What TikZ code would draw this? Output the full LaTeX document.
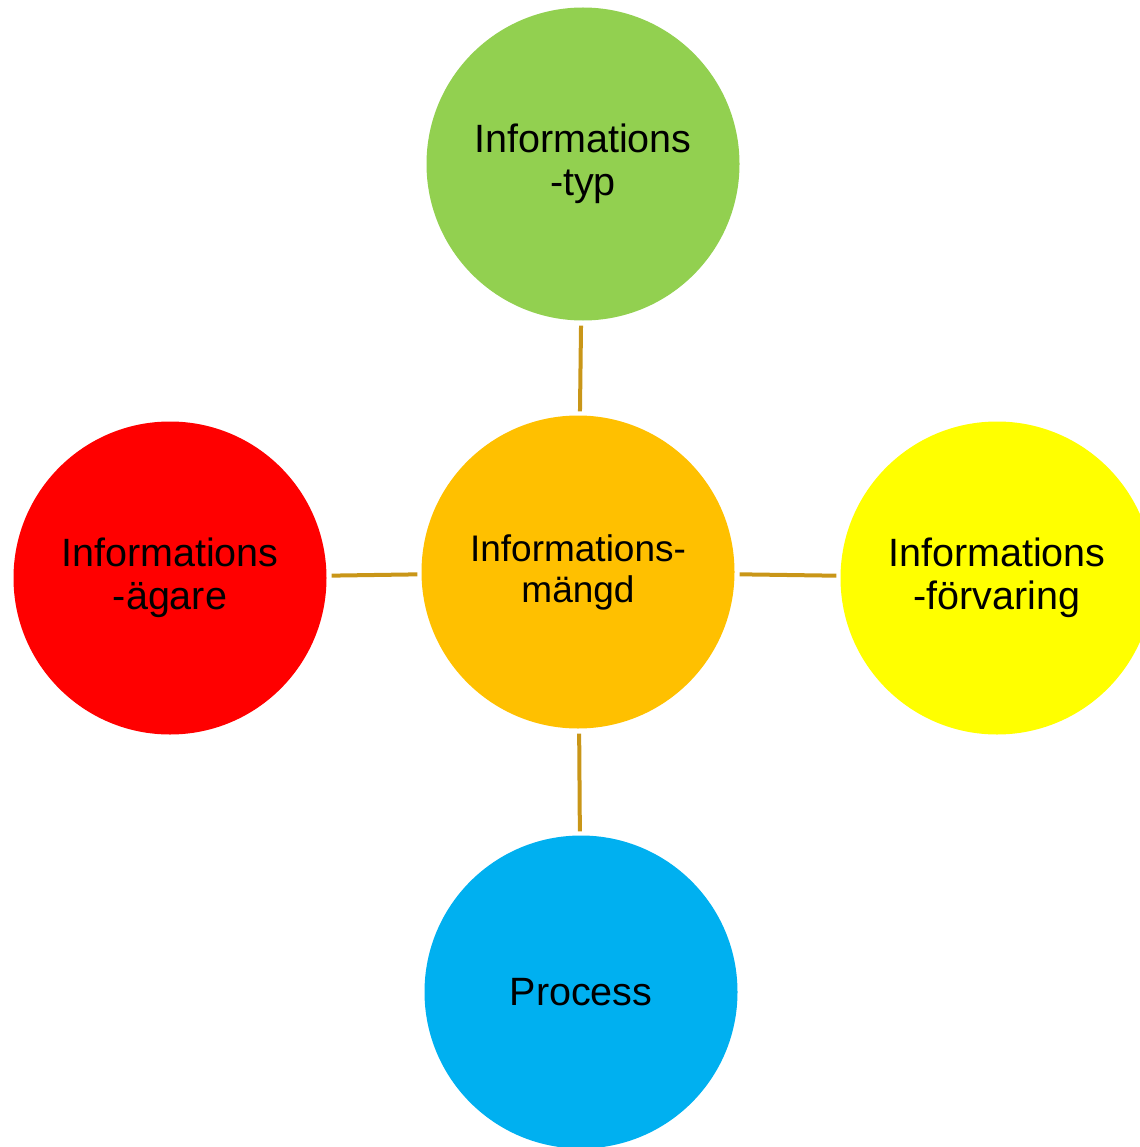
\documentclass[tikz,border=0pt]{standalone}
\usepackage{fontspec}
\setmainfont{Liberation Sans}
\usetikzlibrary{positioning}
\definecolor{infogreen}{HTML}{92D050}
\definecolor{infoorange}{HTML}{FFC000}
\definecolor{infoyellow}{HTML}{FFFF00}
\definecolor{infored}{HTML}{FF0000}
\definecolor{infoblue}{HTML}{00B0F0}
\definecolor{linkgold}{HTML}{C99618}
\begin{document}
\begin{tikzpicture}[x=1pt, y=-1pt]
        % Define block styles
        \tikzstyle{bubble} = [circle, minimum size=313pt, inner sep=0pt, align=center, font=\fontsize{39.5}{43}\selectfont]
        \tikzstyle{line} = [draw, linkgold, line width=4pt, shorten <=5pt, shorten >=4pt]
        \useasboundingbox (0,0) rectangle (1139,1147);

        % Nodes
        \node [bubble, fill=infoorange, font=\fontsize{37}{41}\selectfont] (amount) at (578,572) {Informations-\\mängd};
        \node [bubble, fill=infogreen] (type) at (583,164) {Informations\\-typ};
        \node [bubble, fill=infored] (owner) at (170,578) {Informations\\-ägare};
        \node [bubble, fill=infoyellow] (storage) at (997,578) {Informations\\-förvaring};
        \node [bubble, fill=infoblue] (process) at (581,992) {Process};

        % Lines
        \path [line] (type) -- (amount);
        \path [line] (owner) -- (amount);
        \path [line] (amount) -- (storage);
        \path [line] (amount) -- (process);

\end{tikzpicture}
\end{document}
